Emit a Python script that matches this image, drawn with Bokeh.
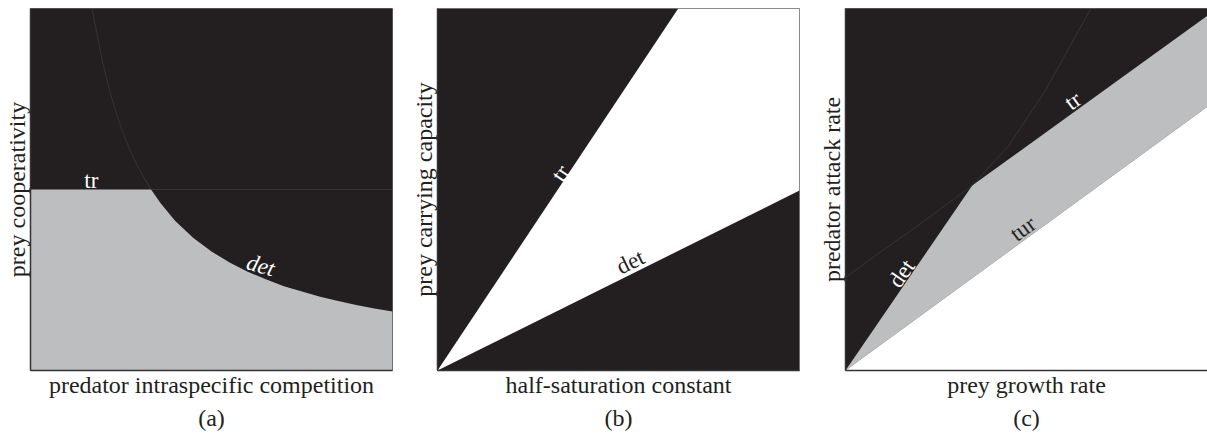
from bokeh.plotting import figure
from bokeh.layouts import row
from bokeh.models import Range1d, FixedTicker, Title
from bokeh.core.properties import value
from bokeh.embed import file_html
from bokeh.resources import INLINE

# ---------------- data (unit square coordinates) ----------------
# panel (a)
a_tr_level = 0.5
a_kink_x = 0.333
a_det_x = [0.17, 0.18, 0.19, 0.2, 0.22, 0.24, 0.26, 0.28, 0.3, 0.333, 0.36, 0.4, 0.45, 0.5,
           0.55, 0.6, 0.65, 0.7, 0.75, 0.8, 0.85, 0.9, 0.95, 1.0]
a_det_y = [1.0, 0.949, 0.897, 0.849, 0.768, 0.701, 0.645, 0.597, 0.556, 0.5, 0.461, 0.413, 0.366, 0.329,
           0.298, 0.273, 0.252, 0.233, 0.218, 0.204, 0.192, 0.181, 0.171, 0.163]
# panel (b)
b_tr_x = [0.0, 0.665]
b_tr_y = [0.0, 1.0]
b_det_x = [0.0, 1.0]
b_det_y = [0.0, 0.497]
# panel (c)
c_lower_x = [0.0, 1.0]
c_lower_y = [0.0, 0.729]
c_upper_x = [0.0, 0.35, 1.0]
c_upper_y = [0.0, 0.511, 0.98]
c_faint_x = [0.0, 0.1, 0.2, 0.35, 0.45, 0.55, 0.678]
c_faint_y = [0.257, 0.33, 0.4, 0.511, 0.62, 0.77, 1.0]

# region labels
a_lab = ["tr", "det"]; a_lab_x = [0.168, 0.636]; a_lab_y = [0.525, 0.29]; a_lab_ang = [0, -16]
b_lab = ["tr", "det"]; b_lab_x = [0.34, 0.533]; b_lab_y = [0.545, 0.3]; b_lab_ang = [56, 26]
c_lab = ["det", "tr", "tur"]; c_lab_x = [0.155, 0.628, 0.49]; c_lab_y = [0.268, 0.745, 0.392]; c_lab_ang = [55.5, 36, 36]

captions = ["(a)", "(b)", "(c)"]
xlabels = ["predator intraspecific competition", "half-saturation constant", "prey growth rate"]
ylabels = ["prey cooperativity", "prey carrying capacity", "predator attack rate"]

DARK = "#231f20"
GRAY = "#bcbec0"
FAINT = "#3a3a3a"
FONT = "Liberation Serif"
FS = "23px"
AXFS = "24px"


def make(xlabel, ylabel, caption, left_border, right_border):
    p = figure(frame_width=362, frame_height=362, x_range=Range1d(0, 1), y_range=Range1d(0, 1),
               output_backend="svg", toolbar_location=None,
               min_border_top=8, min_border_left=left_border, min_border_right=right_border,
               min_border_bottom=0)
    p.grid.visible = False
    for ax, lab in ((p.xaxis, xlabel), (p.yaxis, ylabel)):
        ax.ticker = FixedTicker(ticks=[])
        ax.axis_label = lab
        ax.axis_label_text_font = FONT
        ax.axis_label_text_font_size = AXFS
        ax.axis_label_text_font_style = "normal"
        ax.axis_label_text_color = DARK
        ax.axis_label_standoff = 1
        ax.major_label_text_font_size = "0px"
        ax.major_label_standoff = 0
        ax.major_tick_out = 0
        ax.major_tick_in = 0
        ax.minor_tick_out = 0
        ax.minor_tick_in = 0
        ax.axis_line_color = "#333333"
        ax.axis_line_width = 1.5
    p.outline_line_color = "#666666"
    p.outline_line_width = 1
    p.add_layout(Title(text=caption, align="center", text_font=FONT, text_font_size="24px",
                       text_font_style="normal", text_color=DARK, standoff=5), "below")
    return p


def labels(p, txt, xs, ys, angs, colors, style="normal"):
    p.text(x=xs, y=ys, text=txt, angle=angs, angle_units="deg", text_color=colors,
           text_font=value(FONT), text_font_size=FS, text_font_style=style,
           text_align="center", text_baseline="middle")


# ---------------- panel (a) ----------------
pa = make(xlabels[0], ylabels[0], captions[0], 29, 5)
pa.patch([0, 0, 1, 1], [0, 1, 1, 0], fill_color=DARK, line_color=None)
lower = [(x, y) for x, y in zip(a_det_x, a_det_y) if x >= a_kink_x]
upper = [(x, y) for x, y in zip(a_det_x, a_det_y) if x <= a_kink_x]
gx = [0, 0, a_kink_x] + [x for x, _ in lower] + [1]
gy = [0, a_tr_level, a_tr_level] + [y for _, y in lower] + [0]
pa.patch(gx, gy, fill_color=GRAY, line_color=None)
pa.line([a_kink_x, 1], [a_tr_level, a_tr_level], line_color=FAINT, line_width=0.8)
pa.line([x for x, _ in upper], [y for _, y in upper], line_color=FAINT, line_width=0.8)
labels(pa, a_lab[:1], a_lab_x[:1], a_lab_y[:1], a_lab_ang[:1], ["white"])
labels(pa, a_lab[1:], a_lab_x[1:], a_lab_y[1:], a_lab_ang[1:], ["white"], style="italic")

# ---------------- panel (b) ----------------
pb = make(xlabels[1], ylabels[1], captions[1], 40, 6)
pb.patch([0, 0, 1, 1], [0, 1, 1, 0], fill_color="white", line_color=None)
pb.patch([b_tr_x[0], 0, b_tr_x[1]], [b_tr_y[0], 1, b_tr_y[1]], fill_color=DARK, line_color=None)
pb.patch([b_det_x[0], 1, b_det_x[1]], [b_det_y[0], 0, b_det_y[1]], fill_color=DARK, line_color=None)
labels(pb, b_lab, b_lab_x, b_lab_y, b_lab_ang, ["white", DARK])

# ---------------- panel (c) ----------------
pc = make(xlabels[2], ylabels[2], captions[2], 40, 1)
pc.patch([0, 0, 1, 1], [0, 1, 1, 0], fill_color=DARK, line_color=None)
pc.patch(c_upper_x + c_lower_x[::-1], c_upper_y + c_lower_y[::-1], fill_color=GRAY, line_color=None)
pc.patch(c_lower_x + [1], c_lower_y + [0], fill_color="white", line_color=None)
pc.line(c_faint_x, c_faint_y, line_color=FAINT, line_width=0.8)
labels(pc, c_lab, c_lab_x, c_lab_y, c_lab_ang, ["white", "white", DARK])

layout = row(pa, pb, pc)
open("out.html", "w").write(file_html(layout, INLINE))
